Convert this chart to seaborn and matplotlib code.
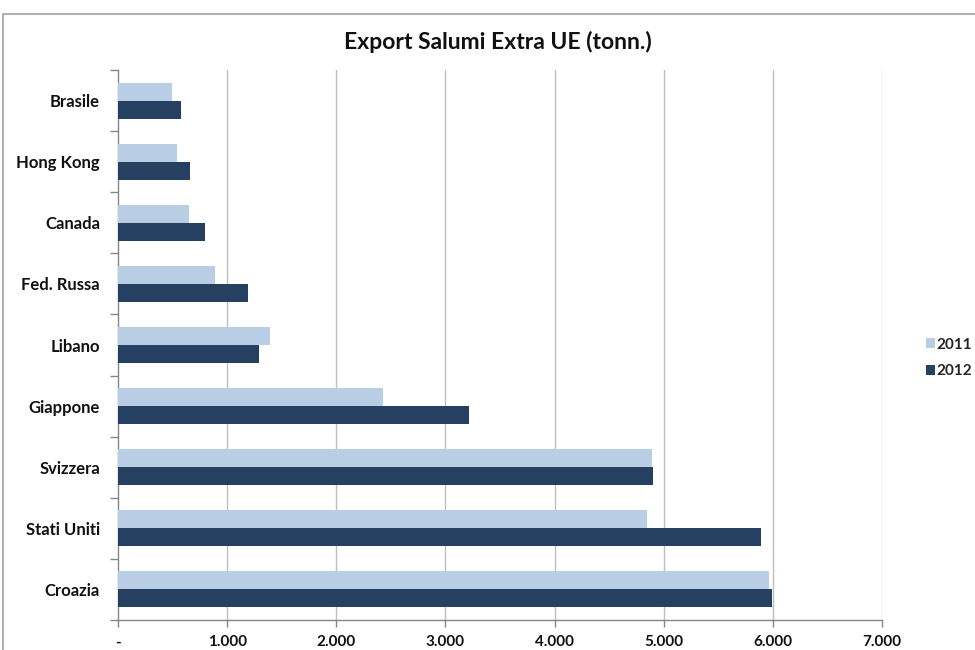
import matplotlib
matplotlib.use("Agg")
import matplotlib.pyplot as plt
import seaborn as sns
import pandas as pd
from matplotlib.patches import Rectangle
from matplotlib.ticker import FixedLocator, FuncFormatter

categories = ["Brasile", "Hong Kong", "Canada", "Fed. Russa", "Libano",
              "Giappone", "Svizzera", "Stati Uniti", "Croazia"]
values_2011 = [492, 537, 650, 887, 1395, 2426, 4894, 4849, 5969]
values_2012 = [579, 662, 798, 1191, 1293, 3216, 4906, 5887, 5995]
years = ["2011", "2012"]
colors = ["#B9CDE5", "#254061"]
x_ticks = [0, 1000, 2000, 3000, 4000, 5000, 6000, 7000]

df = pd.DataFrame({
    "Paese": categories * 2,
    "Valore": values_2011 + values_2012,
    "Anno": [years[0]] * len(categories) + [years[1]] * len(categories),
})

sns.set_theme(style="white")
plt.rcParams["font.family"] = ["Lato", "DejaVu Sans"]

fig = plt.figure(figsize=(9.75, 6.5), dpi=100)
# chart border (Excel-style frame)
fig.patches.append(Rectangle((3 / 975, -0.1), 1.1, (650 - 14) / 650 + 0.1,
                             transform=fig.transFigure, fill=False,
                             edgecolor="#A0A0A0", linewidth=1.2, zorder=0))

ax = fig.add_axes([118 / 975, 30 / 650, 764 / 975, 550 / 650])
sns.barplot(data=df, y="Paese", x="Valore", hue="Anno", order=categories,
            hue_order=years, palette=colors, orient="h", width=0.59,
            saturation=1, ax=ax, legend=True, zorder=3, linewidth=0)

ax.set_xlim(0, 7000)
ax.set_ylim(len(categories) - 0.5, -0.5)
ax.set_xlabel("")
ax.set_ylabel("")

ax.xaxis.set_major_locator(FixedLocator(x_ticks))
ax.xaxis.set_major_formatter(FuncFormatter(
    lambda v, p: "-" if v == 0 else f"{int(v):,}".replace(",", ".")))
for v in x_ticks[1:]:
    ax.axvline(v, color="#BEBEBE", linewidth=1.0, zorder=1)

ax.set_yticks(range(len(categories)))
ax.set_yticklabels(categories)
ax.yaxis.set_minor_locator(FixedLocator([i - 0.5 for i in range(len(categories) + 1)]))
ax.tick_params(axis="y", which="major", length=0, pad=13, labelsize=12)
ax.tick_params(axis="y", which="minor", length=6, width=1, color="#868686", left=True)
ax.tick_params(axis="x", which="major", length=5, width=1, color="#868686",
               bottom=True, labelsize=11, pad=6)
for lab in ax.get_yticklabels() + ax.get_xticklabels():
    lab.set_fontweight("bold")
    lab.set_color("#111111")

for side in ["top", "right"]:
    ax.spines[side].set_visible(False)
for side in ["left", "bottom"]:
    ax.spines[side].set_color("#868686")
    ax.spines[side].set_linewidth(1.0)

handles, labels = ax.get_legend_handles_labels()
ax.get_legend().remove()
fig.legend(handles, labels, loc="center left", bbox_to_anchor=(926 / 975, 1 - 358 / 650),
           frameon=False, prop={"weight": "bold", "size": 11}, borderpad=0,
           borderaxespad=0, handlelength=0.6, handleheight=0.6, handletextpad=0.1,
           labelspacing=0.85)

fig.text(498 / 975, 1 - 42 / 650, "Export Salumi Extra UE (tonn.)",
         ha="center", va="center", fontsize=16.5, fontweight="bold", color="#111111")

fig.savefig("out.png", dpi=100)
